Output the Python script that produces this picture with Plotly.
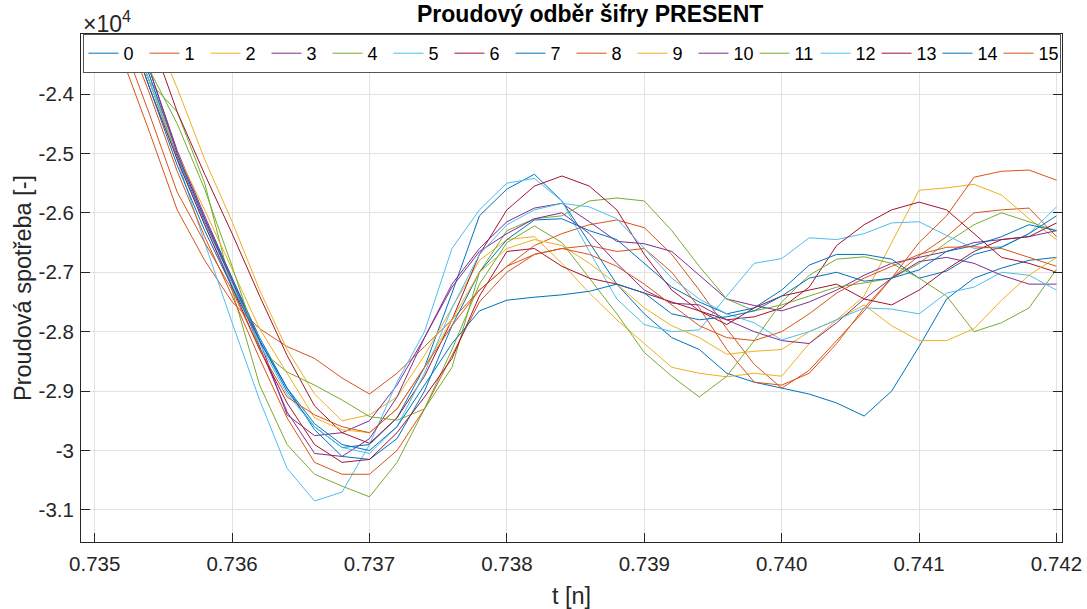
import plotly.graph_objects as go

t = [0.7350, 0.7352, 0.7354, 0.7356, 0.7358, 0.7360, 0.7362, 0.7364, 0.7366, 0.7368,
     0.7370, 0.7372, 0.7374, 0.7376, 0.7378, 0.7380, 0.7382, 0.7384, 0.7386, 0.7388,
     0.7390, 0.7392, 0.7394, 0.7396, 0.7398, 0.7400, 0.7402, 0.7404, 0.7406, 0.7408,
     0.7410, 0.7412, 0.7414, 0.7416, 0.7418, 0.7420]

s0 = [-21200, -22500, -23800, -25050, -26150, -27150, -28150, -29000, -29600, -29950,
      -29900, -29450, -28600, -27350, -26050, -25600, -25350, -25800, -26500, -27200,
      -27700, -28100, -28300, -28700, -28850, -28950, -29050, -29200, -29420, -29000,
      -28250, -27450, -27100, -26930, -26800, -26750]
s1 = [-22300, -23400, -24650, -25950, -26800, -27500, -27950, -28250, -28450, -28780,
      -29050, -28700, -28250, -27800, -27300, -26900, -26550, -26350, -26200, -26120,
      -26250, -26700, -27300, -27950, -28550, -28950, -28650, -28150, -27650, -27100,
      -26720, -26400, -26000, -25950, -25920, -26400]
s2 = [-20300, -21500, -22800, -23900, -25100, -26150, -27300, -28300, -29050, -29500,
      -29400, -29100, -28400, -27600, -26800, -26450, -26400, -26850, -27350, -27800,
      -28200, -28600, -28700, -28760, -28700, -28750, -28200, -27800, -27400, -26500,
      -25620, -25580, -25520, -25700, -26100, -26450]
s3 = [-21000, -22300, -23600, -24950, -26050, -27100, -28150, -29400, -29750, -29700,
      -29500, -28900, -28100, -27200, -26600, -26150, -25920, -25840, -26150, -26480,
      -26520, -26650, -27050, -27450, -27560, -27650, -27500, -27300, -27050, -26850,
      -26750, -26650, -26500, -26450, -26400, -26300]
s4 = [-21300, -22600, -23800, -24300, -25500, -27300, -28900, -29900, -30400, -30600,
      -30780, -30200, -29300, -28600, -27000, -26300, -26100, -26050, -25800, -25750,
      -25800, -26300, -26900, -27450, -27650, -27550, -27400, -27250, -27180, -27100,
      -26850, -26500, -26200, -26000, -26150, -26300]
s5 = [-21000, -22300, -23700, -25100, -26500, -27850, -29150, -30300, -30850, -30700,
      -29900, -28850, -28000, -26600, -25950, -25500, -25420, -25800, -26650, -27450,
      -27880, -28000, -27970, -27400, -26850, -26770, -26420, -26450, -26350, -26170,
      -26150, -26380, -26600, -26570, -26350, -25900]
s6 = [-20000, -21800, -23000, -24300, -25350, -26350, -27400, -28400, -29250, -29700,
      -29880, -29450, -28750, -27800, -26700, -25950, -25550, -25380, -25550, -25950,
      -26700, -27300, -27650, -27800, -27750, -27600, -27250, -26550, -26200, -25950,
      -25820, -25950, -26350, -26750, -26850, -27000]
s7 = [-21100, -22400, -23700, -25000, -26100, -27100, -28100, -28950, -29650, -30100,
      -30150, -29800, -29000, -27900, -27000, -26450, -26120, -26100, -26300, -26450,
      -26850, -27250, -27500, -27700, -27600, -27300, -26880, -26700, -26700, -26780,
      -27100, -26980, -26700, -26580, -26350, -26050]
s8 = [-21500, -22800, -24000, -25300, -26400, -27400, -28450, -29450, -30200, -30400,
      -30400, -30000, -29300, -28400, -27500, -27000, -26700, -26600, -26550, -26650,
      -26600, -27000, -27600, -28300, -28850, -28900, -28700, -28200, -27600, -27100,
      -26500, -26050, -25400, -25300, -25280, -25450]
s9 = [-21300, -22600, -23800, -25000, -25950, -26950, -27950, -28700, -29450, -29650,
      -29700, -29300, -28600, -27800, -27000, -26600, -26450, -26550, -26850, -27200,
      -27600, -27900, -28100, -28380, -28330, -28300, -28000, -27800, -27550, -27900,
      -28150, -28150, -27950, -27470, -27050, -26750]
s10 = [-21000, -22300, -23600, -25000, -26100, -27150, -28250, -29350, -30050, -30100,
       -29800, -29100, -28100, -27250, -26650, -26350, -26100, -26000, -26350, -26850,
       -27300, -27520, -27550, -27800, -28000, -28150, -28200, -27850, -27450, -27100,
       -26820, -26750, -26850, -27050, -27200, -27200]
s11 = [-21100, -22400, -23600, -24500, -25600, -26900, -28300, -28680, -28900, -29150,
       -29430, -29490, -29300, -28300, -27200, -26500, -26220, -26500, -27100, -27700,
       -28350, -28750, -29100, -28750, -28150, -27500, -27050, -26780, -26740, -26850,
       -27100, -27400, -28000, -27850, -27600, -26950]
s12 = [-21200, -22500, -23800, -25100, -26200, -27200, -28200, -29050, -29600, -29950,
       -30050, -29600, -28700, -27600, -26700, -26200, -25950, -25840, -25900, -26100,
       -26600, -27100, -27450, -27700, -27850, -28140, -28000, -27800, -27600, -27620,
       -27700, -27350, -27250, -27000, -27050, -27300]
s13 = [-21300, -22600, -23900, -25100, -26200, -27250, -28300, -29200, -29900, -30200,
       -30150, -29700, -29100, -28450, -27400, -26650, -26600, -26900, -27100, -27200,
       -27350, -27500, -27650, -27880, -27600, -27400, -27300, -27200, -27450, -27550,
       -27300, -26950, -26650, -26450, -26400, -26170]
s14 = [-21300, -22600, -23900, -25200, -26300, -27250, -28150, -28950, -29550, -29900,
       -30000, -29600, -28900, -28200, -27650, -27470, -27420, -27380, -27320, -27200,
       -27350, -27700, -27800, -27750, -27650, -27400, -27100, -27000, -27150, -27100,
       -26960, -26650, -26550, -26400, -26200, -26300]
s15 = [-22000, -23100, -24350, -25650, -26500, -27300, -28300, -29100, -29400, -29600,
       -29700, -29300, -28600, -27900, -27300, -26900, -26700, -26600, -26700, -26900,
       -27200, -27550, -27900, -28100, -28150, -28000, -27700, -27350, -27100, -26900,
       -26700, -26580, -26570, -26600, -26750, -26900]

series = [s0, s1, s2, s3, s4, s5, s6, s7, s8, s9, s10, s11, s12, s13, s14, s15]
names = [str(i) for i in range(16)]
palette = ["#0072BD", "#D95319", "#EDB120", "#7E2F8E", "#77AC30", "#4DBEEE", "#A2142F"]

xticks = [0.735, 0.736, 0.737, 0.738, 0.739, 0.740, 0.741, 0.742]
xticklabels = ["0.735", "0.736", "0.737", "0.738", "0.739", "0.740", "0.741", "0.742"]
yticks = [-31000, -30000, -29000, -28000, -27000, -26000, -25000, -24000]
yticklabels = ["-3.1", "-3", "-2.9", "-2.8", "-2.7", "-2.6", "-2.5", "-2.4"]

FONT = "Liberation Sans, Arial, sans-serif"
AX = "#262626"
GRID = "#e2e2e2"

fig = go.Figure()
for i, (nm, vals) in enumerate(zip(names, series)):
    fig.add_trace(go.Scatter(x=t, y=vals, mode="lines", name=nm,
                             line=dict(color=palette[i % 7], width=1)))

fig.update_layout(
    width=1087, height=609,
    margin=dict(l=81, r=25, t=34, b=67),
    paper_bgcolor="white", plot_bgcolor="white",
    font=dict(family=FONT, size=20, color=AX),
    showlegend=True,
    legend=dict(orientation="h", x=0.5, xanchor="center", y=1, yanchor="top",
                bgcolor="white", bordercolor="#555555", borderwidth=1,
                font=dict(family=FONT, size=18, color="#000000"),
                itemwidth=30, entrywidth=16, entrywidthmode="pixels",
                traceorder="normal"),
    xaxis=dict(range=[0.7349, 0.74204], tickvals=xticks, ticktext=xticklabels,
               ticks="inside", ticklen=9, tickcolor=AX, tickwidth=1,
               showline=True, linecolor=AX, linewidth=1, mirror="ticks",
               showgrid=True, gridcolor=GRID, zeroline=False, automargin=False,
               tickfont=dict(size=20.5, color=AX), ticklabelstandoff=3,
               title=dict(text="t [n]", font=dict(size=23.5, color=AX), standoff=19)),
    yaxis=dict(range=[-31540, -22990], tickvals=yticks, ticktext=yticklabels,
               ticks="inside", ticklen=9, tickcolor=AX, tickwidth=1,
               showline=True, linecolor=AX, linewidth=1, mirror="ticks",
               showgrid=True, gridcolor=GRID, zeroline=False, automargin=False,
               tickfont=dict(size=20.5, color=AX), ticklabelstandoff=2,
               title=dict(text="Proudová spotřeba [-]", font=dict(size=23.5, color=AX), standoff=0)),
)

fig.add_annotation(text="<b>Proudový odběr šifry PRESENT</b>", xref="paper", yref="paper",
                   x=0.519, y=1.039, xanchor="center", yanchor="middle", showarrow=False,
                   font=dict(family=FONT, size=23, color="#000000"))
fig.add_annotation(text="×10<sup>4</sup>", xref="paper", yref="paper",
                   x=0.0, y=0.99, xanchor="left", yanchor="bottom", showarrow=False,
                   font=dict(family=FONT, size=23, color=AX))

fig.write_html("out.html")
